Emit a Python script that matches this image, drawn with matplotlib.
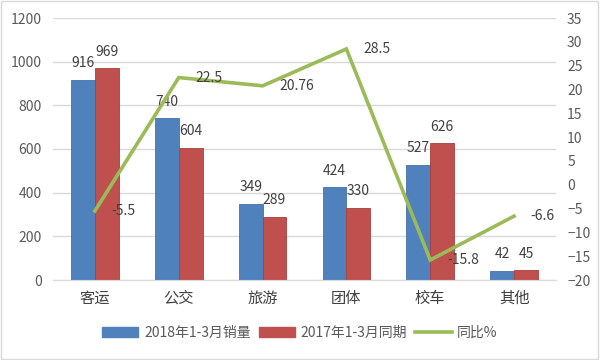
import matplotlib
matplotlib.use("Agg")
import matplotlib.pyplot as plt
from matplotlib.patches import Rectangle
from matplotlib.lines import Line2D

plt.rcParams['font.family'] = ['Noto Sans CJK SC', 'DejaVu Sans']

categories = ['客运', '公交', '旅游', '团体', '校车', '其他']
sales_2018 = [916, 740, 349, 424, 527, 42]
sales_2017 = [969, 604, 289, 330, 626, 45]
yoy = [-5.5, 22.5, 20.76, 28.5, -15.8, -6.6]
yoy_labels = ['-5.5', '22.5', '20.76', '28.5', '-15.8', '-6.6']
series_names = ['2018年1-3月销量', '2017年1-3月同期', '同比%']

blue = '#4F81BD'
red = '#C0504D'
green = '#9BBB59'
txt = '#404040'
tick = '#595959'

fig = plt.figure(figsize=(6, 3.6), dpi=100)
ax = fig.add_axes([53/600, 80/360, 503/600, 262/360])
ax2 = ax.twinx()

x = list(range(len(categories)))
w = 0.285
ax.bar([i - w/2 for i in x], sales_2018, width=w, color=blue, edgecolor='#4472A8', linewidth=0.6, zorder=2)
ax.bar([i + w/2 for i in x], sales_2017, width=w, color=red, edgecolor='#A8403D', linewidth=0.6, zorder=2)

for i in x:
    ax.annotate(str(sales_2018[i]), (i - w/2, sales_2018[i]), xytext=(0, 12), textcoords='offset points',
                ha='center', va='center', fontsize=10, color=txt)
    ax.annotate(str(sales_2017[i]), (i + w/2, sales_2017[i]), xytext=(0, 12), textcoords='offset points',
                ha='center', va='center', fontsize=10, color=txt)

ax.set_xlim(-0.5, 5.5)
ax.set_ylim(0, 1200)
ax.set_yticks(range(0, 1201, 200))
ax.yaxis.grid(True, color='#D9D9D9', linewidth=1, zorder=0)
ax.set_axisbelow(True)
ax.set_xticks(x)
ax.set_xticklabels(categories, fontsize=11, color=txt)
ax.tick_params(axis='x', length=0, pad=7)
ax.tick_params(axis='y', length=0, labelsize=10, labelcolor=tick, pad=8)
for s in ['top', 'left', 'right']:
    ax.spines[s].set_visible(False)
ax.spines['bottom'].set_color('#D9D9D9')

ax2.plot(x, yoy, color=green, linewidth=2.6, zorder=3, solid_joinstyle='miter')
for i in x:
    ax2.annotate(yoy_labels[i], (x[i], yoy[i]), xytext=(12, 0), textcoords='offset points',
                 ha='left', va='center', fontsize=10, color=txt)
ax2.set_ylim(-20, 35)
ax2.set_yticks(range(-20, 36, 5))
ax2.tick_params(axis='y', length=0, labelsize=10, labelcolor=tick, pad=8)
for s in ['top', 'left', 'right', 'bottom']:
    ax2.spines[s].set_visible(False)

handles = [Rectangle((0, 0), 1, 1, color=blue), Rectangle((0, 0), 1, 1, color=red),
           Line2D([0], [0], color=green, linewidth=2.6)]
leg = fig.legend(handles, series_names, loc='center', bbox_to_anchor=(0.5, 27/360), ncol=3,
                 frameon=False, fontsize=10, handlelength=2.6, handleheight=0.7,
                 columnspacing=0.6, handletextpad=0.4)
for t in leg.get_texts():
    t.set_color(tick)

fig.patches.append(Rectangle((0.002, 0.003), 0.995, 0.993, transform=fig.transFigure,
                             fill=False, edgecolor='#D9D9D9', linewidth=1))

fig.savefig('out.png', dpi=100)
